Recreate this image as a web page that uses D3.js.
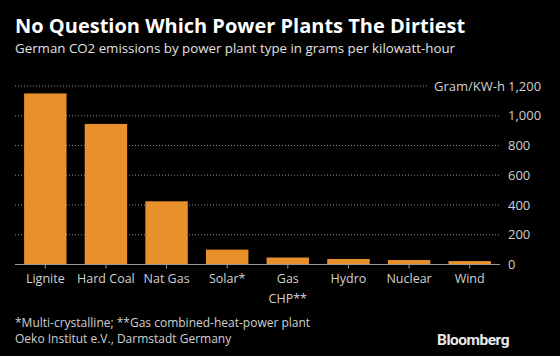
<!DOCTYPE html>
<html><head><meta charset="utf-8">
<script src="https://cdn.jsdelivr.net/npm/d3@7"></script>
<style>body{margin:0;background:#000;} svg{display:block;}</style>
</head><body><svg id="c" width="560" height="356"></svg>
<script>
const categories = ["Lignite","Hard Coal","Nat Gas","Solar*","Gas\nCHP**","Hydro","Nuclear","Wind"];
const values = [1150, 945, 425, 100, 47, 37, 30, 23];
const yTicks = [0, 200, 400, 600, 800, 1000, 1200];
const title = "No Question Which Power Plants The Dirtiest";
const subtitle = "German CO2 emissions by power plant type in grams per kilowatt-hour";
const notes = ["*Multi-crystalline; **Gas combined-heat-power plant", "Oeko Institut e.V., Darmstadt Germany"];
const unit = "Gram/KW-h";

const svg = d3.select("#c");
const font = "'Open Sans', sans-serif";
svg.append("rect").attr("width",560).attr("height",356).attr("fill","#000");

const x = d3.scaleBand().domain(categories).range([15,500]).paddingInner(0.3).paddingOuter(0.15);
const y = d3.scaleLinear().domain([0,1200]).range([264.5,86]);

// gridlines
const g = svg.append("g");
yTicks.filter(d=>d>0).forEach(t=>{
  g.append("line").attr("x1",15).attr("x2", t===1200 ? 428 : 500)
   .attr("y1",y(t)).attr("y2",y(t))
   .attr("stroke","#8a8a8a").attr("stroke-width",1).attr("stroke-dasharray","1,2");
});

// bars
svg.append("g").selectAll("rect").data(values).join("rect")
  .attr("x",(d,i)=>x(categories[i])).attr("width",x.bandwidth())
  .attr("y",d=>y(d)).attr("height",d=>y(0)-y(d))
  .attr("fill","#e8912a");

// baseline
svg.append("line").attr("x1",15).attr("x2",500).attr("y1",y(0)).attr("y2",y(0))
  .attr("stroke","#9a9a9a").attr("stroke-width",1);

// x ticks
svg.append("g").selectAll("line").data(categories).join("line")
  .attr("x1",d=>x(d)+x.bandwidth()/2).attr("x2",d=>x(d)+x.bandwidth()/2)
  .attr("y1",y(0)).attr("y2",y(0)+4).attr("stroke","#9a9a9a");

// x labels
const xl = svg.append("g").attr("font-family",font).attr("font-size",12.5).attr("fill","#d0d0d0").attr("text-anchor","middle");
categories.forEach(c=>{
  const lines = c.split("\n");
  lines.forEach((l,j)=>{
    xl.append("text").attr("x",x(c)+x.bandwidth()/2).attr("y",283+j*20).text(l);
  });
});

// y labels
const yl = svg.append("g").attr("font-family",font).attr("font-size",13).attr("fill","#d0d0d0");
yTicks.forEach(t=>{
  yl.append("text").attr("x",508).attr("y",y(t)+4.5).text(d3.format(",")(t));
});
yl.append("text").attr("x",505).attr("y",y(1200)+4.5).attr("text-anchor","end").text(unit);

// titles
svg.append("text").attr("x",15).attr("y",33).attr("font-family",font).attr("font-weight","bold")
  .attr("font-size",20).attr("fill","#fff").text(title);
svg.append("text").attr("x",15).attr("y",53).attr("font-family",font)
  .attr("font-size",13.3).attr("fill","#e0e0e0").text(subtitle);

// notes
notes.forEach((n,i)=>{
  svg.append("text").attr("x",15).attr("y",327+i*16).attr("font-family",font)
   .attr("font-size",12).attr("fill","#d0d0d0").text(n);
});
svg.append("text").attr("x",509).attr("y",345).attr("text-anchor","end").attr("font-family","Roboto, sans-serif")
  .attr("font-weight","bold").attr("font-size",15.5).attr("letter-spacing","-0.5").attr("fill","#e8e8e8").text("Bloomberg");
</script></body></html>
